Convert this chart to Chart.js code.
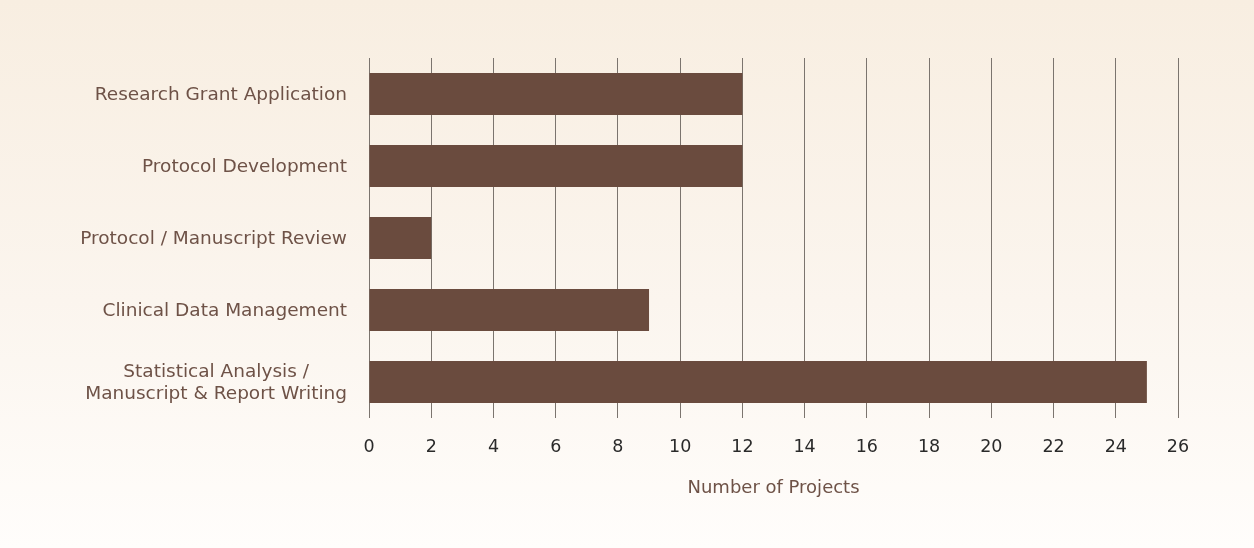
<!DOCTYPE html>
<html>
<head>
<meta charset="utf-8">
<script src="https://cdn.jsdelivr.net/npm/chart.js@4.4.0/dist/chart.umd.min.js"></script>
<style>
  html, body {
    margin: 0;
    padding: 0;
  }
  body {
    width: 1254px;
    height: 548px;
    background: linear-gradient(to bottom, #f8eee1 0%, #fbf5ee 55%, #fffdfb 100%);
  }
  canvas {
    display: block;
  }
</style>
</head>
<body>
<canvas id="projects" width="1254" height="548"></canvas>
<script>
// services and how many projects each one covered
const categories = [
  "Research Grant Application",
  "Protocol Development",
  "Protocol / Manuscript Review",
  "Clinical Data Management",
  ["Statistical Analysis /", "Manuscript & Report Writing"],
];
const projectCounts = [12, 12, 2, 9, 25];
const xTicks = [0, 2, 4, 6, 8, 10, 12, 14, 16, 18, 20, 22, 24, 26];

const brown = "#6a4b3e";
const labelColour = "#6e5247";
const labelFont = "18.5px 'DejaVu Sans', sans-serif";

// category labels: single lines right aligned, wrapped lines centred on each other
const categoryLabels = {
  id: "categoryLabels",
  afterDraw(chart) {
    const ctx = chart.ctx;
    const yScale = chart.scales.y;
    const right = yScale.right - 22;
    const lineHeight = 22;
    ctx.save();
    ctx.font = labelFont;
    ctx.fillStyle = labelColour;
    ctx.textBaseline = "middle";
    categories.forEach((label, i) => {
      const y = yScale.getPixelForValue(i) + 1;
      const lines = Array.isArray(label) ? label : [label];
      const widest = Math.max(...lines.map((l) => ctx.measureText(l).width));
      const startY = y - ((lines.length - 1) * lineHeight) / 2;
      lines.forEach((line, j) => {
        if (lines.length > 1) {
          ctx.textAlign = "center";
          ctx.fillText(line, right - widest / 2, startY + j * lineHeight);
        } else {
          ctx.textAlign = "right";
          ctx.fillText(line, right, startY);
        }
      });
    });
    ctx.restore();
  },
};

new Chart(document.getElementById("projects"), {
  type: "bar",
  data: {
    labels: categories,
    datasets: [
      {
        label: "Number of Projects",
        data: projectCounts,
        backgroundColor: brown,
        borderWidth: 0,
        barPercentage: 0.58,
        categoryPercentage: 1,
      },
    ],
  },
  options: {
    indexAxis: "y",
    responsive: false,
    animation: false,
    layout: {
      padding: { top: 58, right: 76, bottom: 0, left: 0 },
    },
    plugins: {
      legend: { display: false },
      tooltip: { enabled: false },
    },
    scales: {
      x: {
        min: 0,
        max: 26,
        afterFit(scale) {
          scale.height = 130;
        },
        afterBuildTicks(scale) {
          scale.ticks = xTicks.map((v) => ({ value: v }));
        },
        border: { display: false },
        grid: {
          color: "#7b746e",
          lineWidth: 1,
          drawTicks: false,
        },
        ticks: {
          padding: 19,
          color: "#2a2a2a",
          font: { family: "'DejaVu Sans', sans-serif", size: 17.5 },
        },
        title: {
          display: true,
          text: "Number of Projects",
          color: labelColour,
          font: { family: "'DejaVu Sans', sans-serif", size: 18 },
          padding: { top: 0, bottom: 49 },
        },
      },
      y: {
        afterFit(scale) {
          scale.width = 369;
        },
        border: { display: false },
        grid: { display: false },
        ticks: { display: false },
      },
    },
  },
  plugins: [categoryLabels],
});
</script>
</body>
</html>
